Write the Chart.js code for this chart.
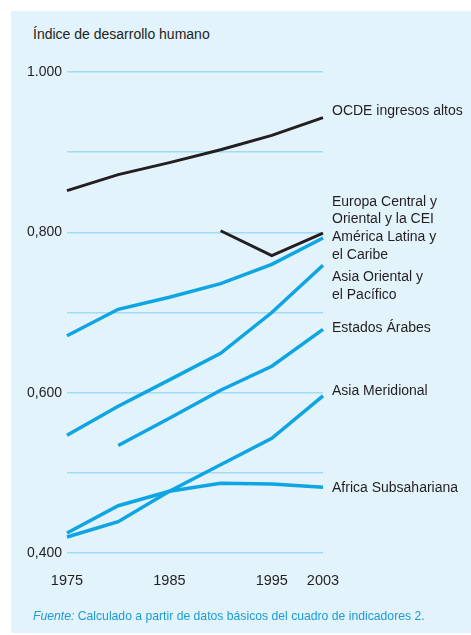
<!DOCTYPE html>
<html lang="es">
<head>
<meta charset="utf-8">
<title>Índice de desarrollo humano</title>
<script src="https://cdn.jsdelivr.net/npm/chart.js@4.4.1/dist/chart.umd.min.js"></script>
<style>
  html, body { margin: 0; padding: 0; background: #fff; }
  #wrap { position: relative; width: 471px; height: 635px; overflow: hidden; }
  #panel { position: absolute; left: 11px; top: 11px; right: 0; bottom: 2px; background: #e2f3fc; }
  #title { position: absolute; left: 33px; top: 26px; font: 14px "Liberation Sans", Arial, sans-serif; color: #231f20; }
  #source { position: absolute; left: 33px; top: 609px; font: 12.2px "Liberation Sans", Arial, sans-serif; color: #1b9bd7; }
  #source i { font-style: italic; }
  canvas { position: absolute; left: 0; top: 0; }
</style>
</head>
<body>
<div id="wrap">
  <div id="panel"></div>
  <div id="title">Índice de desarrollo humano</div>
  <canvas id="chart" width="471" height="635"></canvas>
  <div id="source"><i>Fuente:</i> Calculado a partir de datos básicos del cuadro de indicadores 2.</div>
</div>
<script>
'use strict';
// IDH por región, 1975–2003

// ---------- datos ----------
const years = ['1975', '1980', '1985', '1990', '1995', '2003'];
const xTickLabels = ['1975', '1985', '1995', '2003'];
const yTickValues = [0.4, 0.6, 0.8, 1.0];
const yTickLabels = ['0,400', '0,600', '0,800', '1.000'];

const ocde     = [0.852, 0.872, 0.887, 0.903, 0.921, 0.943];
const europa   = [null, null, null, 0.802, 0.771, 0.799];
const america  = [0.671, 0.704, 0.719, 0.736, 0.760, 0.793];
const asiaOr   = [0.547, 0.583, 0.616, 0.649, 0.700, 0.759];
const arabes   = [null, 0.534, 0.568, 0.603, 0.633, 0.679];
const asiaMer  = [0.420, 0.439, 0.477, 0.510, 0.543, 0.596];
const africa   = [0.425, 0.459, 0.477, 0.487, 0.486, 0.482];

// etiquetas al final de cada línea (primera línea de texto anclada en valor del eje y)
const endLabels = [
  { lines: ['OCDE ingresos altos'], at: 0.951 },
  { lines: ['Europa Central y', 'Oriental y la CEI'], at: 0.838 },
  { lines: ['América Latina y', 'el Caribe'], at: 0.794 },
  { lines: ['Asia Oriental y', 'el Pacífico'], at: 0.744 },
  { lines: ['Estados Árabes'], at: 0.681 },
  { lines: ['Asia Meridional'], at: 0.602 },
  { lines: ['Africa Subsahariana'], at: 0.481 },
];

const BLACK = '#231f20', CYAN = '#0ea5e2', GRID = '#a3dbf5';
const FONT = '"Liberation Sans", Arial, sans-serif';

function line(label, data, color, w) {
  return { label, data, borderColor: color, backgroundColor: color, borderWidth: w,
           pointRadius: 0, tension: 0, spanGaps: false, borderCapStyle: 'butt' };
}

const endLabelPlugin = {
  id: 'endLabels',
  afterDraw(chart) {
    const { ctx, chartArea, scales } = chart;
    ctx.save();
    ctx.font = '14px ' + FONT;
    ctx.fillStyle = BLACK;
    ctx.textBaseline = 'middle';
    ctx.textAlign = 'left';
    endLabels.forEach(l => {
      const y0 = scales.y.getPixelForValue(l.at);
      l.lines.forEach((t, i) => ctx.fillText(t, chartArea.right + 9, y0 + i * 17.5));
    });
    ctx.restore();
  },
};

new Chart(document.getElementById('chart'), {
  type: 'line',
  data: {
    labels: years,
    datasets: [
      line('OCDE ingresos altos', ocde, BLACK, 3),
      line('Europa Central y Oriental y la CEI', europa, BLACK, 3),
      line('América Latina y el Caribe', america, CYAN, 3.5),
      line('Asia Oriental y el Pacífico', asiaOr, CYAN, 3.5),
      line('Estados Árabes', arabes, CYAN, 3.5),
      line('Asia Meridional', asiaMer, CYAN, 3.5),
      line('Africa Subsahariana', africa, CYAN, 3.5),
    ],
  },
  options: {
    responsive: false,
    animation: false,
    devicePixelRatio: 1,
    layout: { padding: { left: 0, top: 72, right: 148, bottom: 42 } },
    plugins: { legend: { display: false }, tooltip: { enabled: false } },
    scales: {
      x: {
        offset: false,
        grid: { display: false },
        border: { display: false },
        afterFit: s => { s.height = 40; },
        ticks: {
          autoSkip: false, maxRotation: 0, padding: 11, color: BLACK,
          font: { family: FONT, size: 14.5 },
          callback: (v, i) => xTickLabels.includes(years[i]) ? years[i] : '',
        },
      },
      y: {
        min: 0.4, max: 1.0,
        afterFit: s => { s.width = 67; },
        border: { display: false },
        grid: { color: GRID, lineWidth: 1.5, drawTicks: false },
        ticks: {
          stepSize: 0.1, padding: 5, color: BLACK,
          font: { family: FONT, size: 14 },
          callback: v => {
            const k = yTickValues.findIndex(t => Math.abs(t - v) < 1e-6);
            return k >= 0 ? yTickLabels[k] : '';
          },
        },
      },
    },
  },
  plugins: [endLabelPlugin],
});
</script>
</body>
</html>
